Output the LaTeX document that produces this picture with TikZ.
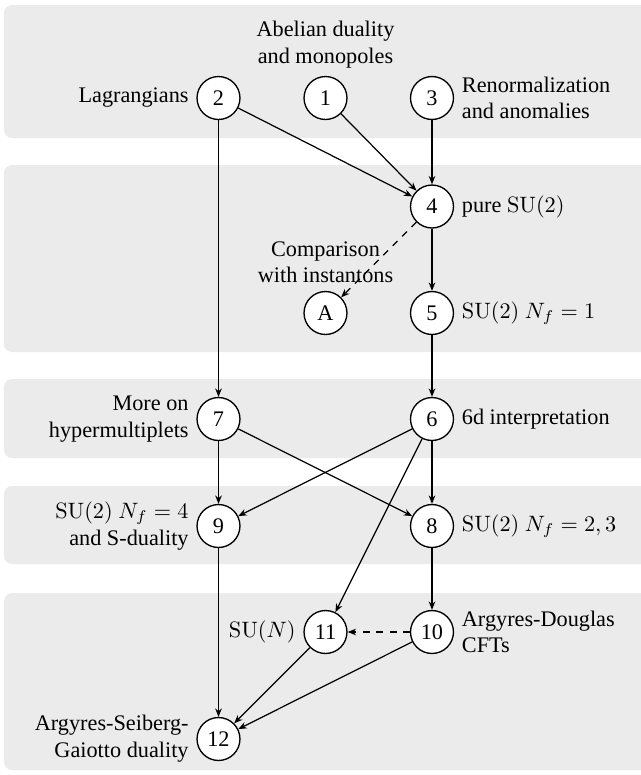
\documentclass[tikz,border=0pt]{standalone}
\usepackage[no-math]{fontspec}
\setmainfont{Liberation Serif}
\usetikzlibrary{arrows.meta}
\definecolor{bandgray}{HTML}{EBEBEB}
\tikzset{
  band/.style={fill=bandgray, draw=none, rounded corners=3.6pt},
  topic/.style={circle, draw, fill=white, line width=0.6pt, minimum size=19.3pt, inner sep=0pt, font=\fontsize{10}{12}\selectfont},
  lbl/.style={inner sep=3.3pt, font=\fontsize{10}{12}\selectfont},
  dep/.style={line width=0.55pt, -{Stealth[length=3.8pt,width=3pt]}},
  optdep/.style={dep, dashed},
}
\begin{document}
\begin{tikzpicture}[x=0.4494pt, y=-0.4494pt]
\useasboundingbox (0,0) rectangle (641,775);
% bands
\fill[band] (4,5) rectangle (670,138);
\fill[band] (4,165) rectangle (670,352);
\fill[band] (4,379) rectangle (670,458);
\fill[band] (4,486) rectangle (670,564);
\fill[band] (4,593) rectangle (670,770);
% nodes
\node[topic] (n2) at (218.5,98) {2};
\node[topic] (n1) at (325.5,98) {1};
\node[topic] (n3) at (432,98) {3};
\node[topic] (n4) at (432,206.5) {4};
\node[topic] (nA) at (325.5,313) {A};
\node[topic] (n5) at (432,313) {5};
\node[topic] (n7) at (218.5,419) {7};
\node[topic] (n6) at (432,419) {6};
\node[topic] (n9) at (218.5,526) {9};
\node[topic] (n8) at (432,526) {8};
\node[topic] (n11) at (325.5,632) {11};
\node[topic] (n10) at (432,632) {10};
\node[topic] (n12) at (218.5,739) {12};
% labels
\node[lbl, anchor=south, align=center] (t1) at (n1.north) {Abelian duality\\and monopoles};
\node[lbl, anchor=east] (t2) at (n2.west) {Lagrangians};
\node[lbl, anchor=west, align=left] (t3) at (n3.east) {Renormalization\\and anomalies};
\node[lbl, anchor=west] (t4) at (n4.east) {pure $\mathrm{SU}(2)$};
\node[lbl, anchor=south, align=center] (tA) at (nA.north) {Comparison\\with instantons};
\node[lbl, anchor=west] (t5) at (n5.east) {$\mathrm{SU}(2)\ N_f=1$};
\node[lbl, anchor=east, align=right] (t7) at (n7.west) {More on\\hypermultiplets};
\node[lbl, anchor=west] (t6) at (n6.east) {6d interpretation};
\node[lbl, anchor=east, align=right] (t9) at (n9.west) {$\mathrm{SU}(2)\ N_f=4$\\and S-duality};
\node[lbl, anchor=west] (t8) at (n8.east) {$\mathrm{SU}(2)\ N_f=2,3$};
\node[lbl, anchor=east] (t11) at (n11.west) {$\mathrm{SU}(N)$};
\node[lbl, anchor=west, align=left] (t10) at (n10.east) {Argyres-Douglas\\CFTs};
\node[lbl, anchor=east, align=right] (t12) at (n12.west) {Argyres-Seiberg-\\Gaiotto duality};
% edges
\draw[dep] (n2) -- (n4);
\draw[dep] (n1) -- (n4);
\draw[dep] (n3) -- (n4);
\draw[optdep] (n4) -- (nA);
\draw[dep] (n4) -- (n5);
\draw[dep] (n5) -- (n6);
\draw[dep] (n2) -- (n7);
\draw[dep] (n7) -- (n9);
\draw[dep] (n7) -- (n8);
\draw[dep] (n6) -- (n9);
\draw[dep] (n6) -- (n8);
\draw[dep] (n6) -- (n11);
\draw[dep] (n8) -- (n10);
\draw[optdep] (n10) -- (n11);
\draw[dep] (n11) -- (n12);
\draw[dep] (n10) -- (n12);
\draw[dep] (n9) -- (n12);
\end{tikzpicture}
\end{document}
